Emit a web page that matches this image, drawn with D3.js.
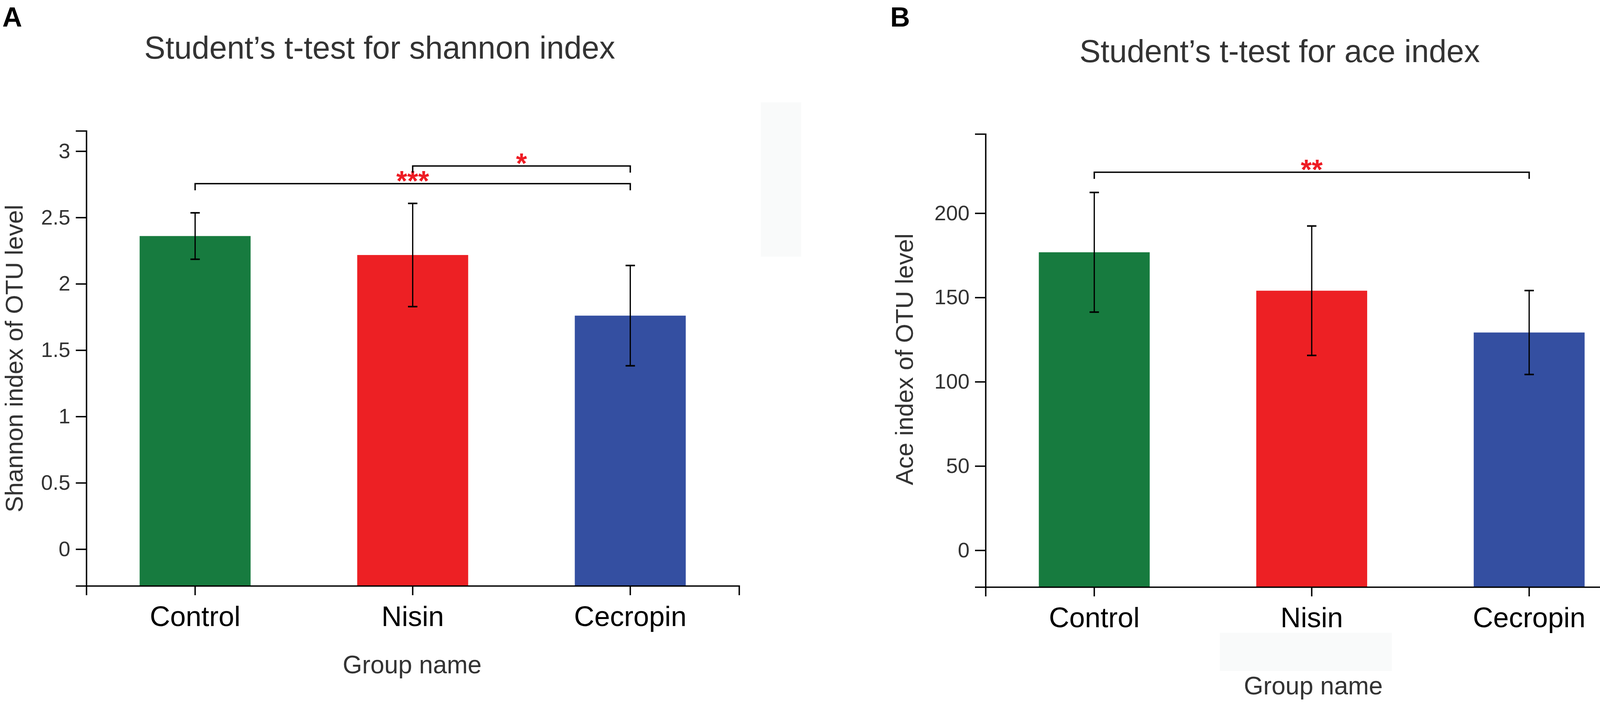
<!DOCTYPE html>
<html>
<head>
<meta charset="utf-8">
<script src="https://cdn.jsdelivr.net/npm/d3@7"></script>
<style>
  html, body { margin: 0; padding: 0; background: #fff; }
  svg { display: block; }
  text { font-family: "Liberation Sans", Arial, Helvetica, sans-serif; }
</style>
</head>
<body>
<svg id="chart" width="4318" height="1800"></svg>
<script>
// ---------------- DATA ----------------
const categories = ["Control", "Nisin", "Cecropin"];
const barColors = ["#177b3f", "#ed2024", "#344fa1"];

const shannonMean = [2.36, 2.217, 1.76];
const shannonSD   = [0.175, 0.389, 0.378];
const shannonTicks = [0, 0.5, 1, 1.5, 2, 2.5, 3];
const shannonSig = [
  { from: "Control", to: "Cecropin", level: 2.755, label: "***" },
  { from: "Nisin",   to: "Cecropin", level: 2.888, label: "*" }
];

const aceMean = [176.8, 154.0, 129.2];
const aceSD   = [35.5, 38.4, 24.9];
const aceTicks = [0, 50, 100, 150, 200];
const aceSig = [
  { from: "Control", to: "Cecropin", level: 224.3, label: "**" }
];

const panelLetters = ["A", "B"];
const titles = ["Student\u2019s t-test for shannon index", "Student\u2019s t-test for ace index"];
const yTitles = ["Shannon index of OTU level", "Ace index of OTU level"];
const xTitle = "Group name";

// ---------------- DRAW ----------------
const svg = d3.select("#chart");
svg.append("rect").attr("width", 4318).attr("height", 1800).attr("fill", "#fff");

// faint artefact boxes present in the original figure
const faint = svg.append("g").attr("fill", "#f9fafa");
faint.append("rect").attr("x", 1948).attr("y", 262).attr("width", 103).attr("height", 395);
faint.append("rect").attr("x", 4245).attr("y", 293).attr("width", 66).attr("height", 270);
faint.append("rect").attr("x", 3123).attr("y", 1620).attr("width", 440).attr("height", 98);

function drawPanel(cfg) {
  const g = svg.append("g");
  const x = d3.scaleBand().domain(categories)
    .range([cfg.x0, cfg.x1]).paddingInner(0.49).paddingOuter(0.245);
  const y = d3.scaleLinear().domain(cfg.domain).range([cfg.yBottom, cfg.yTop]);

  // bars
  g.selectAll("rect.bar").data(categories).join("rect")
    .attr("class", "bar")
    .attr("x", d => x(d))
    .attr("width", x.bandwidth())
    .attr("y", (d, i) => y(cfg.mean[i]))
    .attr("height", (d, i) => y(cfg.domain[0]) - y(cfg.mean[i]))
    .attr("fill", (d, i) => barColors[i]);

  // error bars
  const eb = g.append("g").attr("stroke", "#000").attr("stroke-width", 3.2).attr("fill", "none");
  categories.forEach((c, i) => {
    const cx = x(c) + x.bandwidth() / 2;
    const hi = y(cfg.mean[i] + cfg.sd[i]);
    const lo = y(cfg.mean[i] - cfg.sd[i]);
    eb.append("line").attr("x1", cx).attr("x2", cx).attr("y1", hi).attr("y2", lo);
    eb.append("line").attr("x1", cx - 12).attr("x2", cx + 12).attr("y1", hi).attr("y2", hi).attr("stroke-width", 4);
    eb.append("line").attr("x1", cx - 12).attr("x2", cx + 12).attr("y1", lo).attr("y2", lo).attr("stroke-width", 4);
  });

  // significance brackets
  const br = g.append("g");
  cfg.sig.forEach(s => {
    const xa = x(s.from) + x.bandwidth() / 2;
    const xb = x(s.to) + x.bandwidth() / 2;
    const yy = y(s.level);
    br.append("path")
      .attr("d", `M${xa},${yy + 17}V${yy}H${xb}V${yy + 17}`)
      .attr("fill", "none").attr("stroke", "#000").attr("stroke-width", 3.6);
    br.append("text")
      .attr("x", (xa + xb) / 2).attr("y", yy + 18)
      .attr("text-anchor", "middle")
      .attr("font-size", 72).attr("font-weight", "bold")
      .attr("fill", "#ee1c24")
      .text(s.label);
  });

  // y axis
  const yAxis = d3.axisLeft(y).tickValues(cfg.ticks).tickFormat(d3.format("~g"))
    .tickSizeInner(27).tickSizeOuter(27).tickPadding(14);
  const ya = g.append("g").attr("transform", `translate(${cfg.x0},0)`).call(yAxis);
  ya.select(".domain").attr("stroke", "#000").attr("stroke-width", 3.6);
  ya.selectAll(".tick line").attr("stroke", "#000").attr("stroke-width", 3.6);
  ya.selectAll(".tick text").attr("font-size", 54).attr("fill", "#333")
    .attr("font-family", "Liberation Sans, Arial, sans-serif");

  // x axis
  const xAxis = d3.axisBottom(x).tickSizeInner(24).tickSizeOuter(24).tickPadding(28);
  const xa = g.append("g").attr("transform", `translate(0,${cfg.yBottom})`).call(xAxis);
  xa.select(".domain").attr("stroke", "#000").attr("stroke-width", 3.6);
  xa.selectAll(".tick line").attr("stroke", "#000").attr("stroke-width", 3.6);
  xa.selectAll(".tick text").attr("font-size", 72).attr("fill", "#000")
    .attr("font-family", "Liberation Sans, Arial, sans-serif");

  // panel letter
  g.append("text").attr("x", cfg.letterX).attr("y", 68)
    .attr("font-size", 70).attr("font-weight", "bold").attr("fill", "#000")
    .text(cfg.letter);

  // title
  g.append("text").attr("x", cfg.titleX).attr("y", cfg.titleY)
    .attr("text-anchor", "middle").attr("font-size", 81).attr("fill", "#333")
    .text(cfg.title);

  // y title
  g.append("text")
    .attr("transform", `translate(${cfg.yTitleX},${cfg.yTitleY}) rotate(-90)`)
    .attr("text-anchor", "middle").attr("font-size", 63).attr("fill", "#333")
    .text(cfg.yTitle);

  // x title
  g.append("text").attr("x", cfg.xTitleX).attr("y", cfg.xTitleY)
    .attr("text-anchor", "middle").attr("font-size", 64).attr("fill", "#333")
    .text(xTitle);
}

drawPanel({
  x0: 221, x1: 1892, yTop: 335, yBottom: 1500, domain: [-0.2767, 3.153],
  mean: shannonMean, sd: shannonSD, ticks: shannonTicks, sig: shannonSig,
  letter: panelLetters[0], letterX: 6,
  title: titles[0], titleX: 972, titleY: 150,
  yTitle: yTitles[0], yTitleX: 58, yTitleY: 918,
  xTitleX: 1055, xTitleY: 1724
});

drawPanel({
  x0: 2523, x1: 4193, yTop: 343, yBottom: 1503, domain: [-21.8, 247.0],
  mean: aceMean, sd: aceSD, ticks: aceTicks, sig: aceSig,
  letter: panelLetters[1], letterX: 2279,
  title: titles[1], titleX: 3276, titleY: 159,
  yTitle: yTitles[1], yTitleX: 2337, yTitleY: 920,
  xTitleX: 3362, xTitleY: 1778
});
</script>
</body>
</html>
